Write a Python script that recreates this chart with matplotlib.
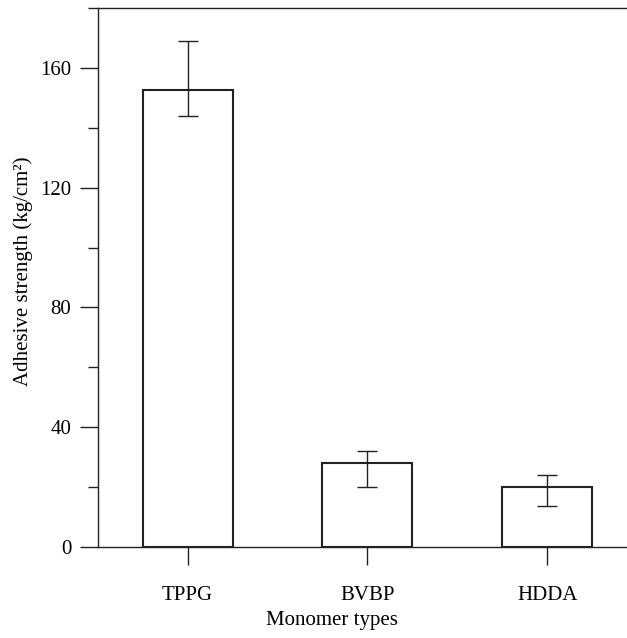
"""Bar chart of adhesive strength by monomer type with asymmetric error bars."""

import matplotlib
matplotlib.use("Agg")
import matplotlib.pyplot as plt
import matplotlib.ticker as ticker

monomers = ["TPPG", "BVBP", "HDDA"]
strength = [152.7, 28.0, 20.0]
err_low = [143.8, 20.0, 13.7]
err_high = [169.1, 32.0, 24.0]

plt.rcParams["font.family"] = ["Liberation Serif", "DejaVu Serif"]

fig = plt.figure(figsize=(6.27, 6.38), dpi=100)
ax = fig.add_axes([97.7 / 627, 91 / 638, 1 - 97.7 / 627, (547 - 8) / 638])

x = list(range(len(monomers)))
yerr = [[s - lo for s, lo in zip(strength, err_low)],
        [hi - s for s, hi in zip(strength, err_high)]]

ax.bar(x, strength, width=0.5, color="white", edgecolor="#222222", linewidth=1.5, zorder=2)
ax.errorbar(x, strength, yerr=yerr, fmt="none", ecolor="#222222", elinewidth=1.0,
            capsize=7.5, capthick=1.0, zorder=3)

ax.set_xlim(-0.5, 2.444)
ax.set_ylim(0, 180)
ax.set_xticks(x)
ax.set_xticklabels(monomers)
ax.yaxis.set_major_locator(ticker.FixedLocator([0, 40, 80, 120, 160]))
ax.yaxis.set_minor_locator(ticker.FixedLocator([20, 60, 100, 140, 180]))

ax.spines["right"].set_visible(False)
for side in ("left", "top", "bottom"):
    ax.spines[side].set_linewidth(1.0)
    ax.spines[side].set_color("#222222")

ax.tick_params(axis="y", which="major", direction="out", length=13, width=1.0,
               pad=6, labelsize=15, color="#222222")
ax.tick_params(axis="y", which="minor", direction="out", length=7, width=1.0,
               color="#222222")
ax.tick_params(axis="x", which="major", direction="out", length=13, width=1.0,
               pad=15, labelsize=15, color="#222222")

ax.set_xlabel("Monomer types", fontsize=15)
ax.set_ylabel("Adhesive strength (kg/cm²)", fontsize=15)
ax.xaxis.set_label_coords(0.4427, -0.118)
ax.yaxis.set_label_coords(-0.122, 0.511)

fig.savefig("out.png", dpi=100)
plt.close(fig)
